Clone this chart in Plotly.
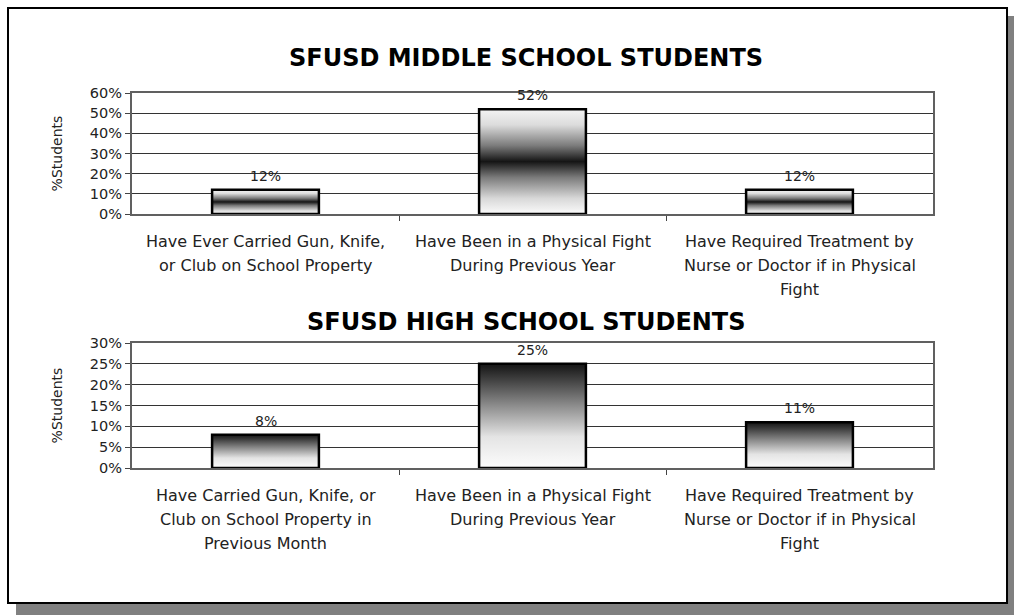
import plotly.graph_objects as go
from plotly.subplots import make_subplots

#----Données----
middle_labels = [
    ["Have Ever Carried Gun, Knife,", "or Club on School Property"],
    ["Have Been in a Physical Fight", "During Previous Year"],
    ["Have Required Treatment by", "Nurse or Doctor if in Physical", "Fight"],
]
middle_values = [0.12, 0.52, 0.12]

high_labels = [
    ["Have Carried Gun, Knife, or", "Club on School Property in", "Previous Month"],
    ["Have Been in a Physical Fight", "During Previous Year"],
    ["Have Required Treatment by", "Nurse or Doctor if in Physical", "Fight"],
]
high_values = [0.08, 0.25, 0.11]

titles = ["SFUSD MIDDLE SCHOOL STUDENTS", "SFUSD HIGH SCHOOL STUDENTS"]
y_title = "%Students"

#----Styles----
FONT = "DejaVu Sans"
BAR_W = 0.4
# dégradé: blanc en bas et en haut, noir au milieu (collège)
middle_scale = [[0, "#fbfbfb"], [0.15, "#d8d8d8"], [0.35, "#7a7a7a"], [0.5, "#151515"],
                [0.65, "#7a7a7a"], [0.85, "#dcdcdc"], [1, "#f4f4f4"]]
# dégradé: blanc en bas, noir en haut (lycée)
high_scale = [[0, "#fcfcfc"], [0.3, "#e4e4e4"], [0.6, "#8c8c8c"], [0.85, "#404040"], [1, "#141414"]]

fig = make_subplots(rows=2, cols=1)


def add_panel(fig, row, labels, values, scale, ymax, dtick):
    xs = list(range(len(values)))
    xref = "x" if row == 1 else "x2"
    yref = "y" if row == 1 else "y2"
    # barres en dégradé
    for x, v in zip(xs, values):
        fig.add_trace(go.Scatter(
            x=[x - BAR_W / 2, x - BAR_W / 2, x + BAR_W / 2, x + BAR_W / 2, x - BAR_W / 2],
            y=[0, v, v, 0, 0], mode="lines", fill="toself",
            fillgradient=dict(type="vertical", colorscale=scale),
            line=dict(color="black", width=2.5), showlegend=False,
            hovertemplate=f"{v:.0%}<extra></extra>"), row=row, col=1)
        # étiquette de valeur
        fig.add_annotation(x=x, y=v, xref=xref, yref=yref, text=f"{v:.0%}", showarrow=False,
                           yanchor="bottom", yshift=4,
                           font=dict(family=FONT, size=14, color="#222"))
    fig.update_xaxes(range=[-0.5, len(values) - 0.5], tickvals=[0.5, 1.5], ticks="outside",
                     ticklen=5, tickcolor="#444", showticklabels=False, showgrid=False,
                     showline=True, linecolor="#606060", linewidth=2, mirror=True,
                     zeroline=False, row=row, col=1)
    fig.update_yaxes(range=[0, ymax], dtick=dtick, tickformat=".0%", ticks="outside",
                     ticklen=5, tickcolor="#444", gridcolor="#333", gridwidth=1,
                     showline=True, linecolor="#606060", linewidth=2, mirror=True,
                     zeroline=True, zerolinecolor="#404040", zerolinewidth=2,
                     tickfont=dict(family=FONT, size=14.5, color="#222"),
                     title=dict(text=y_title, font=dict(family=FONT, size=14, color="#222"),
                                standoff=24),
                     row=row, col=1)
    # étiquettes de catégories (une annotation par ligne pour l'interligne)
    for x, lines in zip(xs, labels):
        for k, line in enumerate(lines):
            fig.add_annotation(x=x, y=0, xref=xref, yref=yref + " domain", text=line,
                               showarrow=False, yanchor="middle", yshift=-(27 + 24 * k),
                               font=dict(family=FONT, size=16, color="#222"))


add_panel(fig, 1, middle_labels, middle_values, middle_scale, 0.6, 0.1)
add_panel(fig, 2, high_labels, high_values, high_scale, 0.3, 0.05)

# titres
for title, y in zip(titles, [1.0933, 0.3893]):
    fig.add_annotation(x=0.4925, y=y, xref="paper", yref="paper", text=f"<b>{title}</b>",
                       showarrow=False, yanchor="middle",
                       font=dict(family=FONT, size=24, color="black"))

# cadre avec ombre
fig.add_shape(type="rect", xref="paper", yref="paper", x0=-0.1448, x1=1.12,
              y0=-0.42, y1=1.2053, fillcolor="#808080", line=dict(width=0), layer="below")
fig.add_shape(type="rect", xref="paper", yref="paper", x0=-0.1548, x1=1.0924,
              y0=-0.36, y1=1.2267, fillcolor="white", line=dict(color="black", width=2),
              layer="below")

fig.update_layout(
    width=1014, height=615,
    margin=dict(l=132, r=81, t=93, b=147),
    paper_bgcolor="white", plot_bgcolor="#c0c0c0",
    showlegend=False,
    yaxis=dict(domain=[0.6773, 1]),
    yaxis2=dict(domain=[0, 0.3333]),
)

# page sans marge ni barres de défilement
fig.write_html("out.html", config={"displayModeBar": False},
               post_script="document.body.style.margin='0';document.body.style.overflow='hidden';")
